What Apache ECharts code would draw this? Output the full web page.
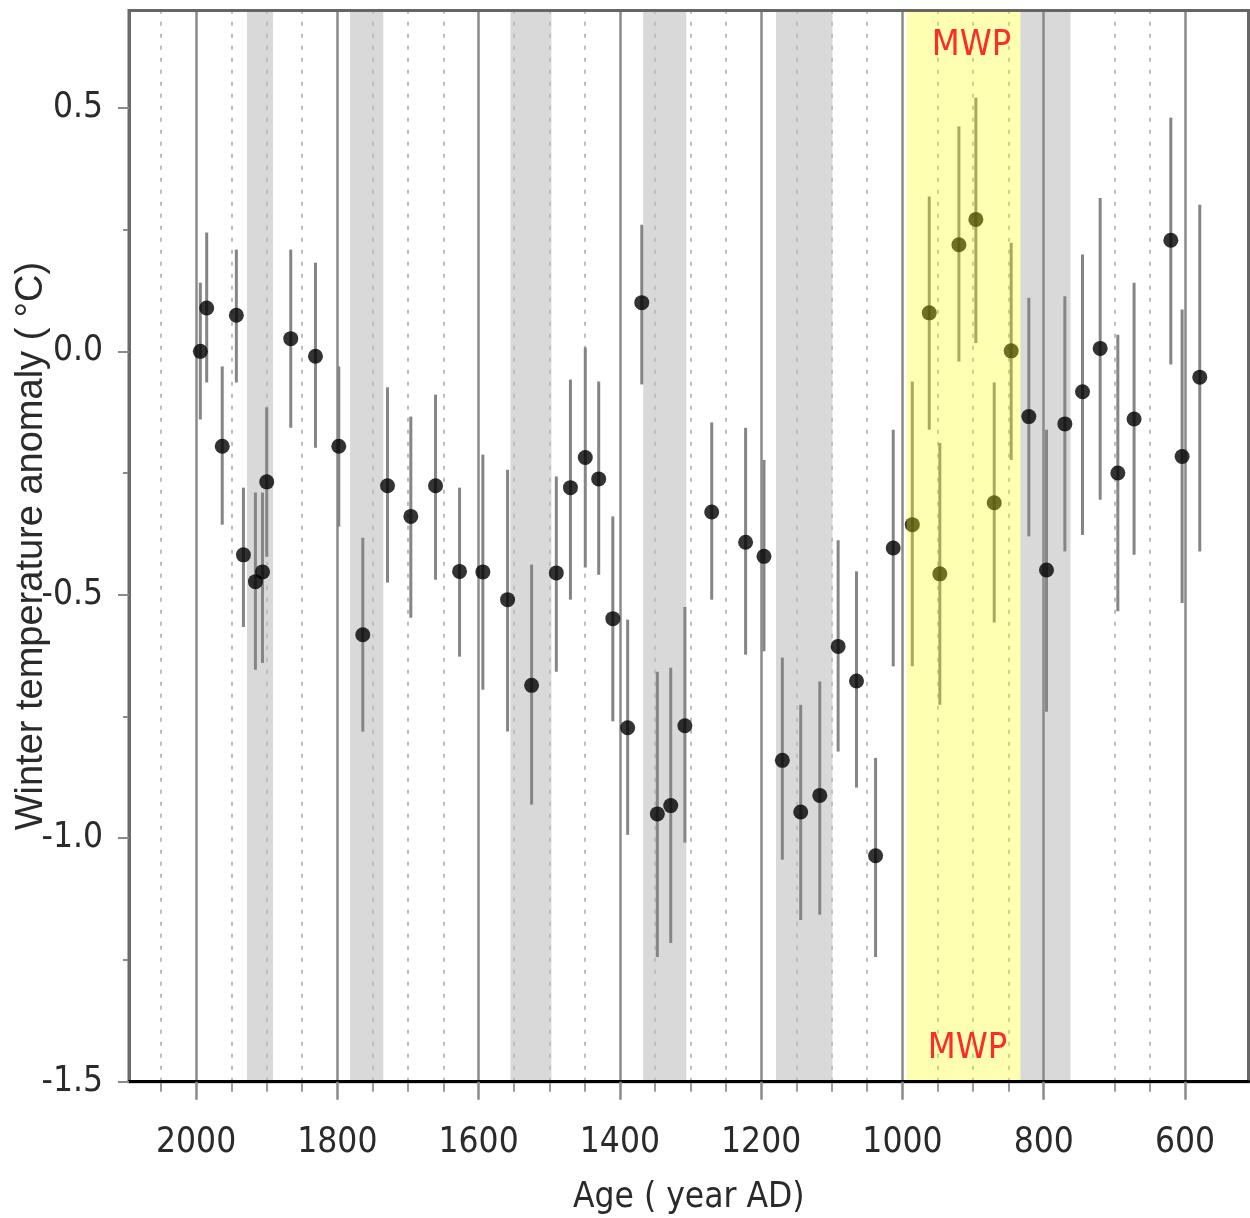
<!DOCTYPE html>
<html>
<head>
<meta charset="utf-8">
<script src="https://cdn.jsdelivr.net/npm/echarts@6/dist/echarts.min.js"></script>
<style>
  html, body { margin: 0; padding: 0; background: #ffffff; }
  #chart { width: 1250px; height: 1218px; }
</style>
</head>
<body>
<div id="chart"></div>
<script>
// ---- data ----
const years  = [1994,1985,1963,1943,1933,1916,1906,1900,1866,1831,1798,1764,1729,1696,1661,1627,1594,1559,1525,1490,1470,1449,1430,1410,1389,1369,1347,1328,1308,1270,1222,1196,1170,1144,1117,1091,1065,1038,1013,986,962,947,920,896,870,846,821,796,770,745,720,695,672,620,604,579];
const values = [0.0,0.089,-0.195,0.074,-0.418,-0.473,-0.453,-0.268,0.026,-0.010,-0.195,-0.582,-0.276,-0.339,-0.276,-0.452,-0.453,-0.510,-0.686,-0.455,-0.280,-0.218,-0.262,-0.549,-0.773,0.100,-0.950,-0.933,-0.769,-0.330,-0.392,-0.421,-0.840,-0.946,-0.912,-0.606,-0.677,-1.036,-0.404,-0.356,0.079,-0.457,0.219,0.271,-0.311,0.001,-0.134,-0.449,-0.149,-0.083,0.006,-0.250,-0.139,0.228,-0.216,-0.053];
const upper  = [0.141,0.244,-0.031,0.209,-0.280,-0.290,-0.290,-0.115,0.209,0.182,-0.031,-0.383,-0.074,-0.134,-0.089,-0.280,-0.212,-0.243,-0.438,-0.257,-0.058,0.008,-0.062,-0.339,-0.551,0.260,-0.658,-0.650,-0.525,-0.146,-0.157,-0.223,-0.629,-0.726,-0.678,-0.388,-0.452,-0.835,-0.161,-0.062,0.318,-0.188,0.462,0.521,-0.064,0.223,0.110,-0.161,0.113,0.199,0.315,0.034,0.141,0.480,0.086,0.301];
const lower  = [-0.140,-0.064,-0.356,-0.064,-0.566,-0.654,-0.640,-0.422,-0.157,-0.198,-0.360,-0.781,-0.475,-0.547,-0.469,-0.627,-0.695,-0.781,-0.931,-0.658,-0.510,-0.444,-0.459,-0.760,-0.993,-0.068,-1.244,-1.215,-1.009,-0.510,-0.623,-0.616,-1.044,-1.168,-1.157,-0.822,-0.896,-1.244,-0.647,-0.647,-0.161,-0.726,-0.021,0.017,-0.557,-0.223,-0.380,-0.740,-0.411,-0.377,-0.305,-0.534,-0.418,-0.027,-0.517,-0.411];

const majorYears = [2000,1800,1600,1400,1200,1000,800,600];
const minorYears = [2050,1950,1900,1850,1750,1700,1650,1550,1500,1450,1350,1300,1250,1150,1100,1050,950,900,850,700,650];
const yMajorTicks = [-1.5,-1.0,-0.5,0.0,0.5];
const yMinorTicks = [-1.25,-0.75,-0.25,0.25];
const grayBands = [[1928,1891],[1782,1735],[1555,1497],[1367,1306],[1179,1099],[833,762]];
const mwpBand = [994,833];
const mwpLabel = 'MWP';
const xTitle = 'Age ( year AD)';
const yTitle = 'Winter temperature anomaly ( °C)';

// ---- styling ----
const NARROW = "'Liberation Sans Narrow', 'DejaVu Sans Condensed', 'Liberation Sans', sans-serif";
const REG = "'Liberation Sans', Arial, sans-serif";
const X_MIN = 510, X_MAX = 2095, Y_MIN = -1.5, Y_MAX = 0.7;

const pointData = years.map((y, i) => [y, values[i]]);
const barData = years.map((y, i) => [y, lower[i], upper[i]]);

const gridLineData = majorYears.map(y => ({
  xAxis: y, lineStyle: { type: 'solid', color: '#8a8a8a', width: 2.5 }
})).concat(minorYears.map(y => ({
  xAxis: y, lineStyle: { type: [4, 8], color: '#bdbdbd', width: 2 }
})));

const bandData = grayBands.map(b => [{ xAxis: b[0] }, { xAxis: b[1] }]);

const chart = echarts.init(document.getElementById('chart'), null, { renderer: 'canvas' });
chart.setOption({
  animation: false,
  backgroundColor: '#ffffff',
  grid: {
    left: 129, right: 1.5, top: 10.5, bottom: 136.3,
    containLabel: false, outerBoundsMode: 'none',
    show: true, borderColor: '#666', borderWidth: 3, backgroundColor: 'transparent', z: 15
  },
  xAxis: [{
    type: 'value', inverse: true, min: X_MIN, max: X_MAX, position: 'bottom', z: 20,
    name: xTitle, nameLocation: 'middle', nameGap: 99, nameMoveOverlap: false,
    nameTextStyle: { fontFamily: NARROW, fontSize: 35, color: '#2a2a2a' },
    axisLine: { show: true, onZero: false, lineStyle: { color: '#000', width: 3 } },
    axisTick: { show: true, customValues: majorYears, length: 18, lineStyle: { color: '#8a8a8a', width: 2.5 } },
    axisLabel: { customValues: majorYears, formatter: v => String(v), margin: 44,
      fontFamily: NARROW, fontSize: 35, color: '#2a2a2a' },
    splitLine: { show: false }
  }, {
    type: 'value', inverse: true, min: X_MIN, max: X_MAX, position: 'bottom', z: 19,
    axisLine: { show: false, onZero: false },
    axisTick: { show: true, customValues: minorYears, length: 10, lineStyle: { color: '#9a9a9a', width: 2 } },
    axisLabel: { show: false },
    splitLine: { show: false }
  }],
  yAxis: [{
    type: 'value', min: Y_MIN, max: Y_MAX, position: 'left', z: 20,
    name: yTitle, nameLocation: 'middle', nameGap: 78, nameRotate: 90, nameMoveOverlap: false,
    nameTextStyle: { fontFamily: REG, fontSize: 38, color: '#2a2a2a' },
    axisLine: { show: true, onZero: false, lineStyle: { color: '#6a6a6a', width: 3 } },
    axisTick: { show: true, customValues: yMajorTicks, length: 11, lineStyle: { color: '#8a8a8a', width: 2 } },
    axisLabel: { customValues: yMajorTicks, formatter: v => v.toFixed(1), margin: 26,
      fontFamily: NARROW, fontSize: 35, color: '#2a2a2a', verticalAlign: 'middle', padding: [10, 0, 0, 0] },
    splitLine: { show: false }
  }, {
    type: 'value', min: Y_MIN, max: Y_MAX, position: 'left', z: 19,
    axisLine: { show: false, onZero: false },
    axisTick: { show: true, customValues: yMinorTicks, length: 6, lineStyle: { color: '#8a8a8a', width: 2 } },
    axisLabel: { show: false },
    splitLine: { show: false }
  }],
  series: [{
    type: 'custom',
    xAxisIndex: 0, yAxisIndex: 0,
    z: 3,
    data: barData,
    encode: { x: 0, y: [1, 2] },
    renderItem: function (params, api) {
      const x = api.value(0);
      const p1 = api.coord([x, api.value(2)]);
      const p2 = api.coord([x, api.value(1)]);
      return {
        type: 'line',
        shape: { x1: p1[0], y1: p1[1], x2: p2[0], y2: p2[1] },
        style: { stroke: '#858585', lineWidth: 3 }
      };
    },
    markArea: {
      silent: true, z: 1,
      itemStyle: { color: '#d9d9d9' },
      label: { show: false },
      data: bandData
    },
    markLine: {
      silent: true, z: 2, symbol: ['none', 'none'],
      label: { show: false },
      data: gridLineData
    }
  }, {
    type: 'scatter',
    xAxisIndex: 0, yAxisIndex: 0,
    z: 4,
    symbol: 'circle', symbolSize: 15,
    itemStyle: { color: '#000' },
    data: pointData,
    markArea: {
      silent: true, z: 10,
      data: [
        [{ xAxis: mwpBand[0], name: mwpLabel,
           itemStyle: { color: 'rgba(255,255,0,0.3)' },
           label: { show: true, position: 'insideTop', distance: 17, offset: [8, 0],
             fontFamily: NARROW, fontSize: 36, color: '#ff2a2a' } },
         { xAxis: mwpBand[1] }],
        [{ xAxis: mwpBand[0], name: mwpLabel,
           itemStyle: { color: 'rgba(0,0,0,0)' },
           label: { show: true, position: 'insideBottom', distance: 15, offset: [4, 0],
             fontFamily: NARROW, fontSize: 36, color: '#ff2a2a' } },
         { xAxis: mwpBand[1] }]
      ]
    }
  }]
});
</script>
</body>
</html>
